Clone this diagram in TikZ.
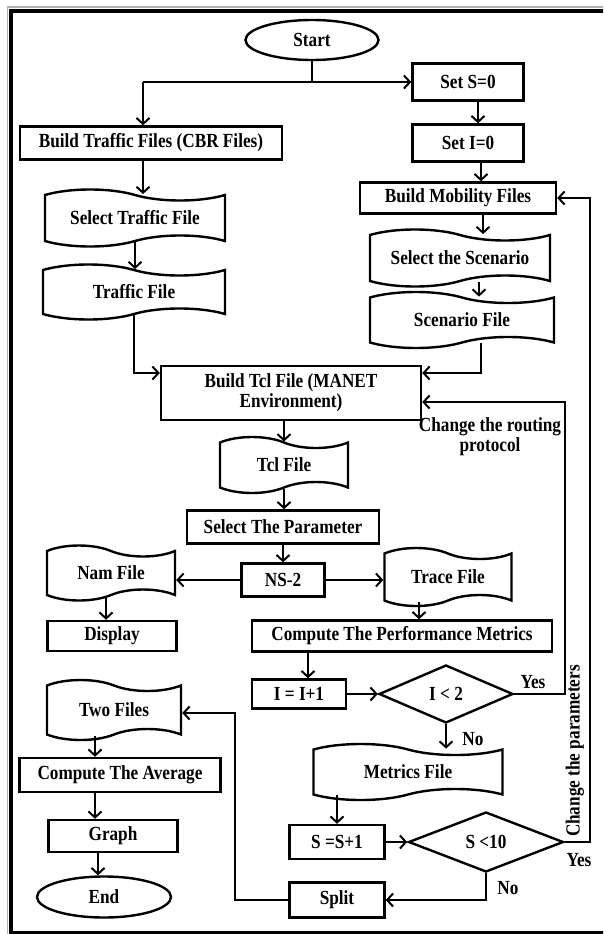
\documentclass[tikz,border=0pt]{standalone}
\usepackage{fontspec}
\setmainfont{Liberation Serif}[FakeStretch=0.86]
\usetikzlibrary{shapes.geometric,shapes.symbols,arrows.meta}
\begin{document}
\begin{tikzpicture}[x=1pt,y=-1pt,
  base/.style={font=\fontsize{20}{20}\selectfont\bfseries, line width=2.4pt, draw, inner sep=0pt, align=center, fill=white},
  box/.style={base, rectangle},
  term/.style={base, ellipse},
  tapebox/.style={base, tape, tape bend top=out and in, tape bend bottom=in and out, tape bend height=11pt},
  dec/.style={base, diamond},
  ln/.style={line width=2pt},
  arr/.style={line width=2pt, -{Straight Barb[length=6pt,width=13pt]}},
  lbl/.style={font=\fontsize{20}{20}\selectfont\bfseries, inner sep=0pt, align=center}]
\useasboundingbox (0,0) rectangle (603,934);
\clip (0,0) rectangle (603,934);
\fill[white] (0,0) rectangle (603,934);
% frame
\draw[gray!60, line width=1.4pt] (7.5,7) rectangle (650,945);
\draw[black, line width=4pt] (11,11) rectangle (650,932.5);

% nodes
\node[term, minimum width=133pt, minimum height=40pt] (start) at (312,40) {Start};
\node[box, minimum width=111pt, minimum height=37pt] (setS) at (468,82) {Set S=0};
\node[box, minimum width=111pt, minimum height=37pt] (setI) at (468,143) {Set I=0};
\node[box, minimum width=262pt, minimum height=33pt] (buildTraffic) at (151,143) {Build Traffic Files (CBR Files)};
\node[tapebox, minimum width=180pt, minimum height=57pt] (selTraffic) at (135,218) {Select Traffic File};
\node[tapebox, minimum width=182pt, minimum height=55pt] (trafficFile) at (134,292) {Traffic File};
\node[box, minimum width=196pt, minimum height=31pt] (buildMob) at (458,198) {Build Mobility Files};
\node[tapebox, minimum width=180pt, minimum height=57pt] (selScen) at (460,258) {Select the Scenario};
\node[tapebox, minimum width=184pt, minimum height=56pt] (scenFile) at (462,320) {Scenario File};
\node[box, minimum width=260pt, minimum height=54pt] (buildTcl) at (291,393) {Build Tcl File (MANET\\Environment)};
\node[tapebox, minimum width=128pt, minimum height=56pt] (tclFile) at (284,465) {Tcl File};
\node[box, minimum width=192pt, minimum height=33pt] (selParam) at (283,527) {Select The Parameter};
\node[box, minimum width=83pt, minimum height=33pt] (ns2) at (283,580) {NS-2};
\node[tapebox, minimum width=128pt, minimum height=55pt] (namFile) at (111,573) {Nam File};
\node[tapebox, minimum width=127pt, minimum height=58pt] (traceFile) at (448,577) {Trace File};
\node[box, minimum width=129pt, minimum height=30pt] (display) at (112,636) {Display};
\node[box, minimum width=300pt, minimum height=31pt] (compPerf) at (402,636) {Compute The Performance Metrics};
\node[box, minimum width=94pt, minimum height=29pt] (incI) at (299,694) {I = I+1};
\node[dec, minimum width=134pt, minimum height=58pt] (condI) at (446,694) {I < 2};
\node[tapebox, minimum width=189pt, minimum height=56pt] (metrics) at (408,772) {Metrics File};
\node[box, minimum width=95pt, minimum height=34pt] (incS) at (337,842) {S =S+1};
\node[dec, minimum width=155pt, minimum height=60pt] (condS) at (486,842) {S <10};
\node[box, minimum width=95pt, minimum height=35pt] (split) at (337,900) {Split};
\node[tapebox, minimum width=134pt, minimum height=60pt] (twoFiles) at (114,710) {Two Files};
\node[box, minimum width=201pt, minimum height=34pt] (compAvg) at (120,775) {Compute The Average};
\node[box, minimum width=129pt, minimum height=32pt] (graph) at (113,836) {Graph};
\node[term, minimum width=134pt, minimum height=41pt] (end) at (104,897) {End};

% labels
\node[lbl] (yes1) at (533,682) {Yes};
\node[lbl] (no1) at (473,739) {No};
\node[lbl] (yes2) at (579,860) {Yes};
\node[lbl] (no2) at (508,888) {No};
\node[lbl] (chRout) at (490,437) {Change the routing\\protocol};
\node[lbl, rotate=90] (chPar) at (575,751) {Change the parameters};

% connectors
\coordinate (j1) at (312,82);
\coordinate (c1) at (143,82);
\draw[ln] (start.south) -- (j1);
\draw[arr] (c1) -- (setS.west);
\draw[arr] (c1) -- (c1 |- buildTraffic.north);
\draw[arr] ([xshift=10pt]setS.south) -- ([xshift=10pt]setI.north);
\draw[arr] ([xshift=13pt]setI.south) -- ([xshift=13pt]setI.south |- buildMob.north);
\draw[arr] ([xshift=25pt]buildMob.south) -- ([xshift=25pt]buildMob.south |- selScen.north);
\draw[arr] ([xshift=19pt]selScen.south) -- ([xshift=19pt]selScen.south |- scenFile.north);
\draw[arr] (buildTraffic.south -| c1) -- (c1 |- selTraffic.north);
\draw[arr] (selTraffic.south) -- (selTraffic.south |- trafficFile.north);
\draw[arr] (trafficFile.south) |- ([yshift=20pt]buildTcl.west);
\draw[arr] ([xshift=19pt]scenFile.south) |- ([yshift=20pt]buildTcl.east);
\draw[arr] (tclFile.north |- buildTcl.south) -- (tclFile.north);
\draw[arr] (tclFile.south) -- (tclFile.south |- selParam.north);
\draw[arr] (selParam.south) -- (ns2.north);
\draw[arr] (ns2.west) -- (ns2.west -| namFile.east);
\draw[arr] (ns2.east) -- (ns2.east -| traceFile.west);
\draw[arr] ([xshift=-5pt]namFile.south) -- ([xshift=-5pt]namFile.south |- display.north);
\draw[arr] ([xshift=-29pt]traceFile.south) -- ([xshift=-29pt]traceFile.south |- compPerf.north);
\draw[arr] ([xshift=9pt]incI.north |- compPerf.south) -- ([xshift=9pt]incI.north);
\draw[arr] (incI.east) -- (condI.west);
\coordinate (r1) at (565,402);
\draw[arr] (condI.east) -| (r1) -- ([yshift=-9pt]buildTcl.east);
\draw[arr] (condI.south) -- (condI.south |- metrics.north);
\draw[arr] (incS.north |- metrics.south) -- (incS.north);
\draw[arr] (incS.east) -- (condS.west);
\coordinate (r2) at (590,198);
\draw[arr] (condS.east) -| (r2) -- (buildMob.east);
\draw[arr] (condS.south) |- (split.east);
\coordinate (l1) at (235,713);
\draw[arr] (split.west) -| (l1) -- (l1 -| twoFiles.east);
\coordinate (a1) at (95,0);
\coordinate (a2) at (98,0);
\draw[arr] (a1 |- twoFiles.south) -- (a1 |- compAvg.north);
\draw[arr] (a1 |- compAvg.south) -- (a1 |- graph.north);
\draw[arr] (a2 |- graph.south) -- (a2 |- end.north);
\end{tikzpicture}
\end{document}
